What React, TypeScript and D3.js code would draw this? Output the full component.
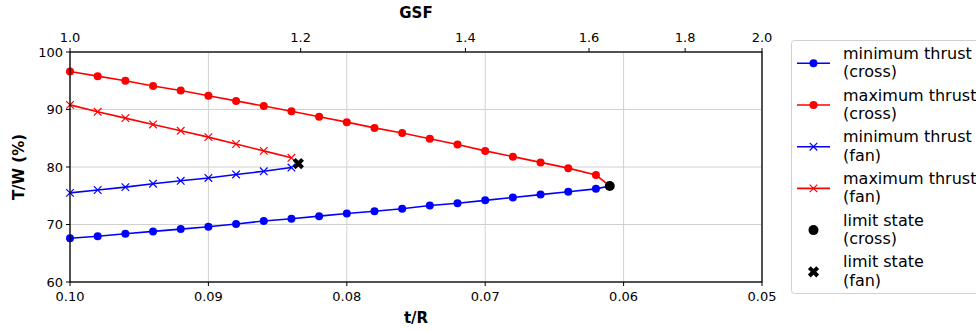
import React from 'react';
import * as d3 from 'd3';

// t/R values for the cross series (0.100 -> 0.062 in steps of 0.002, then limit at 0.061)
const crossTR = [
  0.1, 0.098, 0.096, 0.094, 0.092, 0.09, 0.088, 0.086, 0.084, 0.082,
  0.08, 0.078, 0.076, 0.074, 0.072, 0.07, 0.068, 0.066, 0.064, 0.062, 0.061,
];
const minCross = [
  67.6, 67.95, 68.4, 68.8, 69.2, 69.6, 70.1, 70.6, 71.0, 71.45,
  71.9, 72.3, 72.75, 73.3, 73.7, 74.2, 74.7, 75.2, 75.7, 76.2, 76.7,
];
const maxCross = [
  96.6, 95.8, 95.0, 94.1, 93.3, 92.4, 91.5, 90.6, 89.7, 88.75,
  87.8, 86.8, 85.9, 84.9, 83.9, 82.8, 81.8, 80.8, 79.8, 78.6, 76.7,
];

const fanTR = [0.1, 0.098, 0.096, 0.094, 0.092, 0.09, 0.088, 0.086, 0.084];
const minFan = [75.5, 76.0, 76.5, 77.1, 77.6, 78.1, 78.7, 79.25, 79.9];
const maxFan = [90.8, 89.6, 88.5, 87.4, 86.3, 85.2, 84.0, 82.8, 81.6];

const limitCross = { tr: 0.061, tw: 76.7 };
const limitFan = { tr: 0.0835, tw: 80.6 };

const xTicks = [0.1, 0.09, 0.08, 0.07, 0.06, 0.05];
const yTicks = [60, 70, 80, 90, 100];
const gsfTicks = [1.0, 1.2, 1.4, 1.6, 1.8, 2.0];

const legendItems = [
  { lines: ['minimum thrust', '(cross)'], color: '#0000ff', marker: 'circle' },
  { lines: ['maximum thrust', '(cross)'], color: '#ff0000', marker: 'circle' },
  { lines: ['minimum thrust', '(fan)'], color: '#0000ff', marker: 'x' },
  { lines: ['maximum thrust', '(fan)'], color: '#ff0000', marker: 'x' },
  { lines: ['limit state', '(cross)'], color: '#000', marker: 'bigcircle' },
  { lines: ['limit state', '(fan)'], color: '#000', marker: 'bigx' },
];

const W = 976;
const H = 331;
const m = { left: 70, right: 762, top: 52, bottom: 282 };
const font = 'DejaVu Sans, sans-serif';

const XMark = ({ x, y, r, color, w }: any) => (
  <path
    d={`M${x - r},${y - r}L${x + r},${y + r}M${x - r},${y + r}L${x + r},${y - r}`}
    stroke={color}
    strokeWidth={w}
    fill="none"
  />
);

const Marker = ({ kind, x, y, color }: any) => {
  if (kind === 'circle') return <circle cx={x} cy={y} r={4} fill={color} />;
  if (kind === 'x') return <XMark x={x} y={y} r={3.8} color={color} w={1.2} />;
  if (kind === 'bigcircle') return <circle cx={x} cy={y} r={5} fill={color} />;
  return <XMark x={x} y={y} r={4.2} color={color} w={4} />;
};

export default function App() {
  const x = d3.scaleLinear().domain([0.1, 0.05]).range([m.left, m.right]);
  const y = d3.scaleLinear().domain([60, 100]).range([m.bottom, m.top]);
  // GSF = 0.1 / (t/R)
  const gx = (g: number) => x(0.1 / g);

  const line = d3
    .line<[number, number]>()
    .x(d => x(d[0]))
    .y(d => y(d[1]));

  const series = [
    { tr: crossTR, v: minCross, color: '#0000ff', marker: 'circle' },
    { tr: crossTR, v: maxCross, color: '#ff0000', marker: 'circle' },
    { tr: fanTR, v: minFan, color: '#0000ff', marker: 'x' },
    { tr: fanTR, v: maxFan, color: '#ff0000', marker: 'x' },
  ];

  return (
    <svg
      width={W}
      height={H}
      style={{ position: 'absolute', left: 0, top: 0, background: '#fff' }}
      fontFamily={font}
    >
      {/* grid */}
      <g stroke="#d0d0d0" strokeWidth={1}>
        {xTicks.map(t => (
          <line key={'gx' + t} x1={x(t)} x2={x(t)} y1={m.top} y2={m.bottom} />
        ))}
        {yTicks.map(t => (
          <line key={'gy' + t} x1={m.left} x2={m.right} y1={y(t)} y2={y(t)} />
        ))}
      </g>

      {/* series */}
      {series.map((s, i) => {
        const pts = s.tr.map((t, j) => [t, s.v[j]] as [number, number]);
        return (
          <g key={i}>
            <path d={line(pts) || ''} fill="none" stroke={s.color} strokeWidth={1.6} />
            {pts.map((p, j) => (
              <Marker key={j} kind={s.marker} x={x(p[0])} y={y(p[1])} color={s.color} />
            ))}
          </g>
        );
      })}
      <Marker kind="bigcircle" x={x(limitCross.tr)} y={y(limitCross.tw)} color="#000" />
      <Marker kind="bigx" x={x(limitFan.tr)} y={y(limitFan.tw)} color="#000" />

      {/* spines */}
      <rect
        x={m.left}
        y={m.top}
        width={m.right - m.left}
        height={m.bottom - m.top}
        fill="none"
        stroke="#000"
        strokeWidth={1.3}
      />

      {/* bottom axis */}
      {xTicks.map(t => (
        <g key={'xt' + t}>
          <line x1={x(t)} x2={x(t)} y1={m.bottom} y2={m.bottom + 4} stroke="#000" />
          <text x={x(t)} y={m.bottom + 19} fontSize={13} textAnchor="middle">
            {t.toFixed(2)}
          </text>
        </g>
      ))}
      <text x={(m.left + m.right) / 2} y={323} fontSize={15} fontWeight="bold" textAnchor="middle">
        t/R
      </text>

      {/* top axis */}
      {gsfTicks.map(g => (
        <g key={'gt' + g}>
          <line x1={gx(g)} x2={gx(g)} y1={m.top} y2={m.top - 4} stroke="#000" />
          <text x={gx(g)} y={m.top - 10} fontSize={13} textAnchor="middle">
            {g.toFixed(1)}
          </text>
        </g>
      ))}
      <text x={(m.left + m.right) / 2} y={18} fontSize={15} fontWeight="bold" textAnchor="middle">
        GSF
      </text>

      {/* left axis */}
      {yTicks.map(t => (
        <g key={'yt' + t}>
          <line x1={m.left - 4} x2={m.left} y1={y(t)} y2={y(t)} stroke="#000" />
          <text x={m.left - 7} y={y(t) + 4.5} fontSize={13} textAnchor="end">
            {t}
          </text>
        </g>
      ))}
      <text
        transform={`translate(24,${(m.top + m.bottom) / 2}) rotate(-90)`}
        fontSize={15}
        fontWeight="bold"
        textAnchor="middle"
      >
        T/W (%)
      </text>

      {/* legend */}
      <rect x={791.5} y={40.5} width={200} height={253} rx={3} fill="#fff" stroke="#d0d0d0" />
      {legendItems.map((it, i) => {
        const cy = 63.3 + i * 41.7;
        return (
          <g key={'lg' + i}>
            {it.marker === 'circle' || it.marker === 'x' ? (
              <line x1={797} x2={830} y1={cy} y2={cy} stroke={it.color} strokeWidth={1.6} />
            ) : null}
            <Marker kind={it.marker} x={813.5} y={cy} color={it.color} />
            <text x={843} y={cy - 4.5} fontSize={16}>
              {it.lines[0]}
            </text>
            <text x={843} y={cy + 14} fontSize={16}>
              {it.lines[1]}
            </text>
          </g>
        );
      })}
    </svg>
  );
}
